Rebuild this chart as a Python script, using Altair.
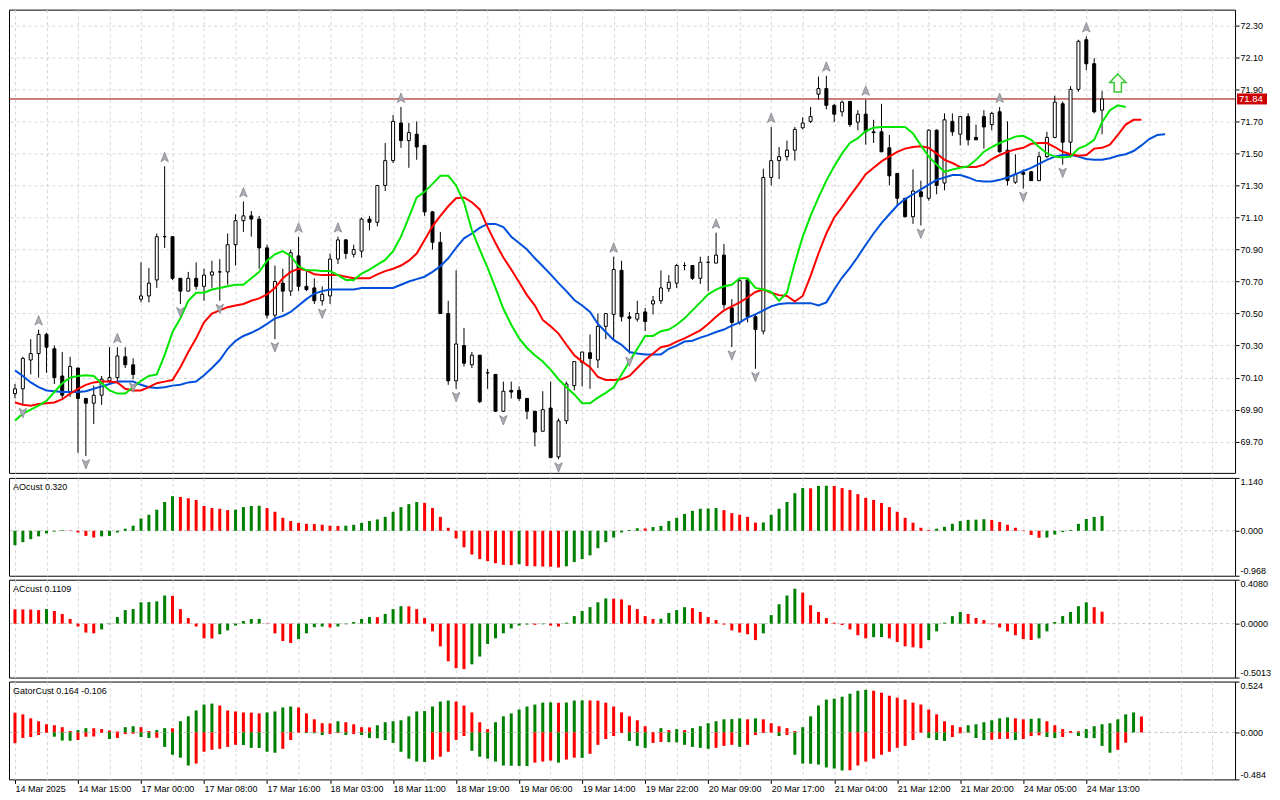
import json
import altair as alt
import pandas as pd

# ---------------- data ----------------
opens = [70.00, 70.03, 70.21, 70.25, 70.37, 70.28, 70.11, 70.01, 70.16, 69.97,
         69.94, 69.99, 70.08, 70.10, 70.23, 70.18, 70.59, 70.61, 70.71, 70.98,
         70.98, 70.72, 70.64, 70.72, 70.67, 70.74, 70.76, 70.76, 70.93, 71.08,
         71.11, 71.09, 70.91, 70.49, 70.69, 70.64, 70.86, 70.67, 70.66, 70.58,
         70.61, 70.84, 70.96, 70.87, 70.89, 71.09, 71.07, 71.30, 71.455, 71.69,
         71.58, 71.62, 71.55, 71.135, 70.945, 70.50, 70.08, 70.30, 70.18, 70.24,
         70.13, 70.12, 69.89, 70.02, 70.02, 69.97, 69.89, 69.765, 69.91, 69.605,
         69.83, 70.05, 70.195, 70.255, 70.21, 70.42, 70.495, 70.77, 70.48, 70.465,
         70.51, 70.56, 70.58, 70.655, 70.69, 70.80, 70.80, 70.72, 70.82, 70.815,
         70.865, 70.535, 70.445, 70.71, 70.48, 70.39, 71.35, 71.455, 71.48, 71.52,
         71.66, 71.70, 71.87, 71.905, 71.80, 71.76, 71.825, 71.695, 71.745, 71.635,
         71.635, 71.535, 71.375, 71.22, 71.105, 71.26, 71.22, 71.645, 71.315, 71.70,
         71.62, 71.73, 71.60, 71.73, 71.68, 71.76, 71.52, 71.32, 71.38, 71.385,
         71.33, 71.48, 71.60, 71.81, 71.57, 71.90, 72.21, 72.06, 71.77]
highs = [70.06, 70.23, 70.34, 70.40, 70.38, 70.30, 70.26, 70.23, 70.16, 69.97,
         70.05, 70.11, 70.29, 70.29, 70.29, 70.22, 70.82, 70.785, 71.00, 71.42,
         70.98, 70.72, 70.76, 70.82, 70.78, 70.83, 70.84, 71.00, 71.12, 71.20,
         71.14, 71.11, 70.93, 70.80, 70.78, 70.90, 70.98, 70.77, 70.72, 70.67,
         70.875, 70.98, 70.965, 70.93, 71.10, 71.11, 71.30, 71.565, 71.74, 71.79,
         71.69, 71.70, 71.55, 71.14, 71.01, 70.58, 70.77, 70.41, 70.26, 70.24,
         70.155, 70.12, 70.075, 70.075, 70.045, 69.97, 69.89, 70.015, 70.075, 69.845,
         70.075, 70.20, 70.26, 70.37, 70.50, 70.50, 70.855, 70.83, 70.51, 70.58,
         70.535, 70.61, 70.77, 70.74, 70.81, 70.82, 70.80, 70.855, 70.86, 71.005,
         70.935, 70.59, 70.72, 70.72, 70.49, 71.405, 71.665, 71.54, 71.58, 71.665,
         71.725, 71.79, 71.98, 71.985, 71.81, 71.83, 71.825, 71.77, 71.835, 71.71,
         71.81, 71.615, 71.375, 71.22, 71.40, 71.33, 71.65, 71.65, 71.75, 71.75,
         71.73, 71.75, 71.68, 71.77, 71.76, 71.79, 71.70, 71.495, 71.40, 71.39,
         71.51, 71.635, 71.86, 71.825, 71.92, 72.21, 72.23, 72.095, 71.89]
lows = [69.97, 69.93, 70.12, 70.10, 70.13, 70.06, 69.97, 69.98, 69.63, 69.61,
        69.81, 69.93, 70.06, 70.08, 70.16, 70.09, 70.57, 70.57, 70.66, 70.91,
        70.71, 70.56, 70.64, 70.65, 70.58, 70.66, 70.58, 70.68, 70.80, 71.01,
        70.98, 70.78, 70.47, 70.34, 70.51, 70.61, 70.64, 70.64, 70.56, 70.55,
        70.56, 70.81, 70.84, 70.85, 70.85, 71.02, 71.045, 71.265, 71.44, 71.535,
        71.41, 71.46, 71.11, 70.90, 70.50, 70.055, 70.03, 70.17, 70.16, 69.94,
        70.03, 69.885, 69.885, 69.97, 69.955, 69.84, 69.67, 69.765, 69.60, 69.59,
        69.81, 70.02, 70.045, 70.03, 70.16, 70.34, 70.33, 70.45, 70.25, 70.45,
        70.39, 70.495, 70.56, 70.635, 70.66, 70.77, 70.71, 70.685, 70.64, 70.815,
        70.53, 70.29, 70.43, 70.445, 70.155, 70.37, 71.30, 71.34, 71.455, 71.455,
        71.65, 71.69, 71.835, 71.775, 71.695, 71.73, 71.665, 71.645, 71.555, 71.565,
        71.51, 71.30, 71.17, 71.10, 71.06, 71.05, 71.205, 71.245, 71.27, 71.61,
        71.55, 71.55, 71.585, 71.53, 71.645, 71.505, 71.30, 71.31, 71.28, 71.33,
        71.33, 71.47, 71.595, 71.43, 71.475, 71.885, 72.02, 71.75, 71.62]
closes = [70.03, 70.22, 70.25, 70.37, 70.29, 70.10, 69.99, 70.17, 69.97, 69.94,
          69.99, 70.09, 70.10, 70.235, 70.18, 70.12, 70.61, 70.69, 70.98, 70.98,
          70.72, 70.64, 70.72, 70.67, 70.74, 70.76, 70.76, 70.93, 71.08, 71.11,
          71.09, 70.91, 70.49, 70.70, 70.64, 70.88, 70.67, 70.65, 70.58, 70.62,
          70.84, 70.96, 70.875, 70.90, 71.09, 71.07, 71.30, 71.455, 71.70, 71.58,
          71.63, 71.54, 71.135, 70.945, 70.50, 70.08, 70.31, 70.19, 70.24, 69.95,
          70.13, 69.89, 70.015, 70.01, 69.97, 69.89, 69.76, 69.90, 69.60, 69.83,
          70.06, 70.20, 70.26, 70.22, 70.42, 70.50, 70.775, 70.48, 70.47, 70.50,
          70.45, 70.58, 70.66, 70.695, 70.80, 70.80, 70.72, 70.82, 70.82, 70.865,
          70.555, 70.445, 70.705, 70.48, 70.40, 71.35, 71.455, 71.48, 71.52, 71.65,
          71.69, 71.73, 71.905, 71.80, 71.745, 71.82, 71.68, 71.745, 71.635, 71.63,
          71.51, 71.36, 71.22, 71.105, 71.265, 71.23, 71.645, 71.30, 71.71, 71.635,
          71.73, 71.585, 71.585, 71.665, 71.75, 71.51, 71.33, 71.37, 71.37, 71.33,
          71.48, 71.60, 71.82, 71.57, 71.90, 72.20, 72.06, 71.76, 71.84]

# Alligator lines (lips shifted 3, teeth 5, jaw 8 bars to the right)
lips = [69.83, 69.875, 69.90, 69.925, 69.955, 70.01, 70.065, 70.10, 70.11, 70.115,
        70.11, 70.065, 70.02, 70.00, 70.00, 70.04, 70.08, 70.11, 70.12, 70.24,
        70.385, 70.47, 70.58, 70.63, 70.63, 70.65, 70.66, 70.67, 70.68, 70.68,
        70.72, 70.76, 70.83, 70.87, 70.89, 70.86, 70.795, 70.77, 70.77, 70.765,
        70.765, 70.74, 70.71, 70.71, 70.75, 70.775, 70.805, 70.835, 70.89, 70.98,
        71.10, 71.225, 71.26, 71.31, 71.36, 71.36, 71.30, 71.195, 71.02, 70.90,
        70.785, 70.66, 70.53, 70.43, 70.345, 70.285, 70.24, 70.20, 70.15, 70.09,
        70.04, 69.995, 69.94, 69.94, 69.975, 70.005, 70.04, 70.12, 70.20, 70.28,
        70.36, 70.36, 70.39, 70.40, 70.43, 70.47, 70.52, 70.57, 70.62, 70.65,
        70.67, 70.68, 70.72, 70.72, 70.66, 70.65, 70.635, 70.58, 70.63, 70.815,
        70.98, 71.11, 71.225, 71.33, 71.42, 71.50, 71.565, 71.595, 71.64, 71.66,
        71.665, 71.665, 71.665, 71.665, 71.625, 71.55, 71.48, 71.43, 71.385, 71.40,
        71.41, 71.42, 71.46, 71.51, 71.54, 71.565, 71.585, 71.605, 71.61, 71.585,
        71.54, 71.50, 71.48, 71.475, 71.48, 71.53, 71.55, 71.585, 71.695, 71.77,
        71.80, 71.79]
teeth = [69.945, 69.93, 69.925, 69.935, 69.94, 69.945, 69.965, 70.00, 70.03, 70.055,
         70.07, 70.075, 70.075, 70.07, 70.03, 70.02, 70.02, 70.04, 70.065, 70.075,
         70.085, 70.165, 70.26, 70.345, 70.445, 70.50, 70.52, 70.54, 70.55, 70.56,
         70.58, 70.595, 70.62, 70.66, 70.72, 70.76, 70.78, 70.77, 70.745, 70.74,
         70.74, 70.74, 70.73, 70.72, 70.72, 70.72, 70.745, 70.765, 70.78, 70.80,
         70.83, 70.875, 70.96, 71.045, 71.11, 71.17, 71.22, 71.225, 71.195, 71.15,
         71.04, 70.94, 70.85, 70.775, 70.695, 70.615, 70.55, 70.46, 70.42, 70.375,
         70.305, 70.24, 70.20, 70.165, 70.105, 70.085, 70.085, 70.09, 70.11, 70.16,
         70.21, 70.25, 70.29, 70.30, 70.325, 70.345, 70.37, 70.395, 70.435, 70.48,
         70.52, 70.545, 70.57, 70.60, 70.635, 70.65, 70.63, 70.615, 70.61, 70.575,
         70.61, 70.735, 70.875, 71.00, 71.10, 71.165, 71.235, 71.30, 71.37, 71.41,
         71.45, 71.48, 71.51, 71.53, 71.54, 71.545, 71.535, 71.50, 71.46, 71.44,
         71.415, 71.415, 71.415, 71.43, 71.465, 71.49, 71.51, 71.525, 71.535, 71.56,
         71.565, 71.565, 71.54, 71.51, 71.495, 71.485, 71.49, 71.53, 71.535, 71.555,
         71.615, 71.68, 71.71, 71.71]
jaw = [70.145, 70.11, 70.07, 70.04, 70.02, 70.015, 70.01, 70.01, 70.01, 70.015,
       70.03, 70.045, 70.06, 70.075, 70.075, 70.075, 70.055, 70.04, 70.035, 70.04,
       70.05, 70.055, 70.07, 70.075, 70.115, 70.16, 70.21, 70.28, 70.33, 70.36,
       70.38, 70.405, 70.435, 70.47, 70.485, 70.51, 70.55, 70.59, 70.625, 70.64,
       70.65, 70.65, 70.65, 70.65, 70.66, 70.66, 70.66, 70.66, 70.66, 70.68,
       70.70, 70.715, 70.73, 70.76, 70.795, 70.845, 70.91, 70.97, 71.00, 71.035,
       71.06, 71.06, 71.04, 70.98, 70.94, 70.90, 70.845, 70.795, 70.745, 70.69,
       70.64, 70.585, 70.55, 70.51, 70.435, 70.385, 70.335, 70.305, 70.26, 70.25,
       70.245, 70.245, 70.245, 70.28, 70.30, 70.325, 70.33, 70.35, 70.365, 70.385,
       70.40, 70.425, 70.445, 70.475, 70.495, 70.52, 70.545, 70.56, 70.565, 70.565,
       70.565, 70.565, 70.55, 70.57, 70.65, 70.725, 70.785, 70.855, 70.93, 71.00,
       71.065, 71.12, 71.175, 71.215, 71.245, 71.275, 71.305, 71.335, 71.35, 71.365,
       71.365, 71.35, 71.33, 71.325, 71.325, 71.335, 71.35, 71.37, 71.39, 71.41,
       71.435, 71.46, 71.48, 71.49, 71.49, 71.48, 71.465, 71.46, 71.46, 71.47,
       71.485, 71.495, 71.515, 71.55, 71.59, 71.615, 71.62]

fractal_up = [3, 13, 19, 29, 36, 41, 49, 76, 89, 96, 103, 108, 125, 136]
fractal_down = [1, 9, 15, 21, 26, 33, 39, 56, 62, 69, 78, 91, 94, 115, 128, 133]

signal_bar = [140]
signal_price = [71.94]
price_now = [71.84]

ao = [-0.31, -0.245, -0.18, -0.12, -0.055, -0.018, 0.015, 0.008, -0.036, -0.11,
      -0.145, -0.12, -0.11, -0.036, 0.045, 0.11, 0.265, 0.345, 0.455, 0.62,
      0.745, 0.73, 0.70, 0.665, 0.535, 0.49, 0.475, 0.445, 0.455, 0.51,
      0.535, 0.54, 0.49, 0.41, 0.28, 0.21, 0.17, 0.15, 0.145, 0.13,
      0.11, 0.105, 0.11, 0.13, 0.17, 0.21, 0.245, 0.30, 0.41, 0.51,
      0.575, 0.62, 0.60, 0.49, 0.30, 0.065, -0.165, -0.355, -0.51, -0.61,
      -0.655, -0.70, -0.735, -0.74, -0.72, -0.76, -0.765, -0.77, -0.775, -0.79,
      -0.765, -0.675, -0.61, -0.53, -0.375, -0.245, -0.145, -0.036, 0.018, 0.055,
      0.05, 0.08, 0.105, 0.21, 0.28, 0.365, 0.43, 0.475, 0.48, 0.49,
      0.445, 0.38, 0.345, 0.30, 0.175, 0.18, 0.345, 0.475, 0.62, 0.81,
      0.92, 0.915, 0.965, 0.97, 0.965, 0.92, 0.88, 0.79, 0.71, 0.665,
      0.60, 0.51, 0.41, 0.28, 0.175, 0.065, 0.018, 0.045, 0.085, 0.15,
      0.21, 0.235, 0.24, 0.25, 0.235, 0.19, 0.13, 0.065, 0.01, -0.09,
      -0.15, -0.145, -0.08, -0.027, 0.018, 0.15, 0.255, 0.30, 0.32]
ao_colors = ("ggggggg" "rrrr" "gggggggggg" "rrrrrrr" "gggg" "rrrrrrrrrr"
             "gggggggggg" "rrrrrrrrrrrr" "g" "rrrrr" "gggggggggg" "r"
             "ggggggggg" "rrrrr" "gggggg" "r" "gg" "rrrrrrrrrrrrr" "ggggggg"
             "rrrrrrr" "gggggggg")

ac = [0.133, 0.132, 0.131, 0.126, 0.135, 0.117, 0.09, 0.043, -0.027, -0.083,
      -0.09, -0.054, -0.006, 0.061, 0.126, 0.135, 0.198, 0.20, 0.207, 0.261,
      0.258, 0.135, 0.052, -0.027, -0.137, -0.138, -0.099, -0.063, -0.018, 0.024,
      0.043, 0.044, -0.003, -0.09, -0.162, -0.18, -0.144, -0.09, -0.033, -0.027,
      -0.036, -0.027, -0.006, 0.015, 0.043, 0.061, 0.060, 0.09, 0.135, 0.162,
      0.161, 0.135, 0.052, -0.072, -0.211, -0.35, -0.414, -0.423, -0.378, -0.306,
      -0.189, -0.137, -0.09, -0.045, -0.018, -0.009, -0.011, -0.006, -0.018, -0.027,
      0.009, 0.07, 0.117, 0.153, 0.198, 0.234, 0.232, 0.225, 0.171, 0.135,
      0.07, 0.043, 0.045, 0.099, 0.126, 0.153, 0.144, 0.108, 0.061, 0.033,
      -0.009, -0.063, -0.083, -0.099, -0.153, -0.09, 0.079, 0.18, 0.261, 0.324,
      0.288, 0.171, 0.108, 0.052, 0.009, -0.013, -0.054, -0.108, -0.137, -0.126,
      -0.125, -0.137, -0.171, -0.211, -0.22, -0.229, -0.153, -0.072, 0.009, 0.07,
      0.108, 0.09, 0.052, 0.033, -0.006, -0.036, -0.072, -0.108, -0.144, -0.153,
      -0.137, -0.072, 0.015, 0.07, 0.108, 0.162, 0.198, 0.153, 0.1109]
ac_colors = ("rrrr" "g" "rrrrrr" "ggggggggg" "rrrrrr" "gggggg" "rrrr" "gggg" "r"
             "ggggg" "r" "ggg" "rrrrrrrr" "gggggggg" "r" "g" "rr" "gggggg"
             "rrrrrr" "gggg" "rrrrrrrrr" "ggggg" "rrrrrrrrr" "gg" "rrrrr"
             "ggggg" "rrrrrrrrr" "ggggggg" "rr")

gator_up = [0.203, 0.186, 0.145, 0.115, 0.084, 0.074, 0.054, 0.014, 0.024, 0.044,
            0.043, 0.034, 0.02, 0.01, 0.054, 0.064, 0.054, 0.014, 0.024, 0.044,
            0.042, 0.115, 0.166, 0.226, 0.287, 0.297, 0.277, 0.226, 0.216, 0.206,
            0.204, 0.196, 0.206, 0.216, 0.257, 0.267, 0.257, 0.196, 0.135, 0.095,
            0.093, 0.115, 0.105, 0.084, 0.054, 0.052, 0.074, 0.105, 0.115, 0.125,
            0.166, 0.216, 0.22, 0.267, 0.318, 0.328, 0.318, 0.277, 0.206, 0.105,
            0.034, 0.105, 0.166, 0.196, 0.236, 0.267, 0.287, 0.307, 0.31, 0.305,
            0.308, 0.328, 0.33, 0.329, 0.327, 0.307, 0.267, 0.206, 0.166, 0.125,
            0.064, 0.003, 0.044, 0.024, 0.034, 0.024, 0.044, 0.064, 0.095, 0.115,
            0.135, 0.137, 0.145, 0.135, 0.145, 0.135, 0.095, 0.064, 0.044, 0.014,
            0.054, 0.166, 0.277, 0.338, 0.348, 0.368, 0.399, 0.429, 0.439, 0.429,
            0.409, 0.378, 0.358, 0.338, 0.307, 0.287, 0.236, 0.186, 0.115, 0.074,
            0.054, 0.074, 0.084, 0.105, 0.125, 0.145, 0.155, 0.145, 0.135, 0.14,
            0.145, 0.115, 0.074, 0.034, 0.014, 0.012, 0.034, 0.064, 0.084, 0.095,
            0.135, 0.186, 0.206, 0.164]
gator_up_colors = ("rrrrrrrr" "gg" "rrrr" "gg" "rr" "gg" "r" "ggggg" "rrrrrr"
                   "gggg" "rrrrr" "g" "rrrr" "gggggggggg" "rrrrr" "gggggggg" "r"
                   "ggg" "rrrrrrrrr" "g" "r" "g" "r" "ggggggg" "r" "g" "rrrrr"
                   "ggggggggg" "rrrrrrrrrrrr" "gggggg" "rr" "gg" "rrrrr"
                   "ggggggg" "r")
gator_down = [-0.111, -0.057, -0.047, -0.027, -0.005, -0.044, -0.084, -0.086, -0.078, -0.044,
              -0.042, -0.005, -0.068, -0.057, -0.017, -0.014, -0.047, -0.057, -0.055, -0.149,
              -0.23, -0.26, -0.341, -0.321, -0.199, -0.179, -0.169, -0.149, -0.128, -0.13,
              -0.159, -0.161, -0.199, -0.209, -0.169, -0.078, -0.003, -0.007, -0.009, -0.027,
              -0.017, -0.007, -0.027, -0.017, -0.027, -0.057, -0.06, -0.078, -0.108, -0.199,
              -0.27, -0.30, -0.305, -0.28, -0.25, -0.199, -0.078, -0.037, -0.189, -0.25,
              -0.27, -0.30, -0.341, -0.343, -0.345, -0.347, -0.311, -0.30, -0.29, -0.311,
              -0.28, -0.26, -0.262, -0.22, -0.128, -0.068, -0.037, -0.007, -0.088, -0.139,
              -0.159, -0.108, -0.098, -0.1, -0.102, -0.128, -0.149, -0.159, -0.169, -0.159,
              -0.139, -0.128, -0.149, -0.128, -0.027, -0.007, -0.003, -0.037, -0.027, -0.23,
              -0.321, -0.323, -0.331, -0.361, -0.372, -0.392, -0.39, -0.341, -0.30, -0.27,
              -0.23, -0.199, -0.159, -0.139, -0.078, -0.003, -0.057, -0.078, -0.088, -0.047,
              -0.01, -0.003, -0.057, -0.078, -0.076, -0.068, -0.066, -0.078, -0.068, -0.037,
              -0.03, -0.047, -0.057, -0.047, -0.007, -0.037, -0.057, -0.059, -0.139, -0.209,
              -0.179, -0.106]
gator_down_colors = ("rrrrr" "ggg" "rrrr" "g" "rrr" "gg" "r" "gggg" "rrrrrr" "ggggg"
                     "rrr" "ggg" "rr" "g" "r" "ggggggggg" "rrrrr" "gggggggg" "rrr" "g"
                     "rr" "g" "rrrrr" "ggg" "rr" "gggggg" "rrr" "g" "rrrr" "g" "r"
                     "ggggggg" "rrrrrrrrrr" "ggg" "rrr" "gg" "rrr" "g" "rrr" "gg" "rr"
                     "ggggg" "rr")

time_labels = ["14 Mar 2025", "14 Mar 15:00", "17 Mar 00:00", "17 Mar 08:00",
               "17 Mar 16:00", "18 Mar 03:00", "18 Mar 11:00", "18 Mar 19:00",
               "19 Mar 06:00", "19 Mar 14:00", "19 Mar 22:00", "20 Mar 09:00",
               "20 Mar 17:00", "21 Mar 04:00", "21 Mar 12:00", "21 Mar 20:00",
               "24 Mar 05:00", "24 Mar 13:00"]
price_ticks = [69.70, 69.90, 70.10, 70.30, 70.50, 70.70, 70.90, 71.10,
               71.30, 71.50, 71.70, 71.90, 72.10, 72.30]
grid_bars = list(range(0, 153, 4))

# ---------------- styling ----------------
FONT = "Liberation Sans"
W = 1228
H_MAIN = 464
H_IND = 98
GRID = "#d6d6d6"
C_GREEN = "#008000"
C_RED = "#ff0000"
MINUS_FIX = "replace(datum.label, '\u2212', '-')"

XS = alt.Scale(domain=[-0.125, 154.25], nice=False, zero=False)
x_axis_plain = alt.Axis(values=grid_bars, grid=True, gridDash=[3, 3], gridColor=GRID,
                        labels=False, ticks=False, domain=False, title=None)
label_expr = ("datum.value % 8 == 0 ? (" + json.dumps(time_labels)
              + "[datum.value / 8] || '') : ''")
x_axis_time = alt.Axis(values=grid_bars, grid=True, gridDash=[3, 3], gridColor=GRID,
                       labelExpr=label_expr, labelAlign="left", labelBaseline="top",
                       labelPadding=1, labelOverlap=False, labelBound=False, labelFlush=False,
                       tickSize=4,
                       tickColor={"condition": {"test": "datum.value % 8 == 0 && datum.value <= 136",
                                                "value": "black"},
                                  "value": "transparent"},
                       domain=False, title=None)


def colour_list(s, n):
    s = (s + s[-1] * n)[:n]
    return list(s)


# ---------------- main price panel ----------------
YS = alt.Scale(domain=[69.505, 72.398], nice=False, zero=False)
y_axis_main = alt.Axis(orient="right", values=price_ticks, format=".2f", grid=True,
                       gridDash=[3, 3], gridColor=GRID, tickSize=4, labelPadding=1,
                       domain=False, title=None)


def XM(axis=x_axis_plain):
    return alt.X("i:Q", scale=XS, axis=axis, title=None)


def YM(field):
    return alt.Y(field, scale=YS, axis=y_axis_main, title=None)


cdf = pd.DataFrame({"i": range(len(opens)), "o": opens, "h": highs, "l": lows, "c": closes})
cdf["dir"] = ["up" if c >= o else "down" for o, c in zip(opens, closes)]

price_df = pd.DataFrame({"p": price_now})

price_line = alt.Chart(price_df).mark_rule(color="#990000", strokeWidth=1).encode(y=YM("p:Q"))

wicks = alt.Chart(cdf).mark_rule(color="black", strokeWidth=1).encode(
    x=XM(), y=YM("l:Q"), y2="h:Q")
bodies = alt.Chart(cdf).mark_bar(size=3, stroke="black", strokeWidth=1).encode(
    x=XM(), y=YM("o:Q"), y2="c:Q",
    fill=alt.Fill("dir:N", scale=alt.Scale(domain=["up", "down"], range=["white", "black"]),
                  legend=None))


def line_layer(vals, colour):
    df = pd.DataFrame({"i": range(len(vals)), "v": vals})
    return alt.Chart(df).mark_line(color=colour, strokeWidth=2).encode(x=XM(), y=YM("v:Q"))


jaw_l = line_layer(jaw, "#0050dc")
teeth_l = line_layer(teeth, "#ff0000")
lips_l = line_layer(lips, "#00e600")

UP_PATH = "M0,-1L0.75,0.9L0,0.45L-0.75,0.9Z"
DN_PATH = "M0,1L0.75,-0.9L0,-0.45L-0.75,-0.9Z"
fup = pd.DataFrame({"i": fractal_up, "p": [highs[k] for k in fractal_up]})
fdn = pd.DataFrame({"i": fractal_down, "p": [lows[k] for k in fractal_down]})
frac_up_l = alt.Chart(fup).mark_point(shape=UP_PATH, size=100, filled=True, fill="#acacb4",
                                      stroke="#85858c", strokeWidth=0.8, opacity=1,
                                      yOffset=-9).encode(x=XM(), y=YM("p:Q"))
frac_dn_l = alt.Chart(fdn).mark_point(shape=DN_PATH, size=100, filled=True, fill="#acacb4",
                                      stroke="#85858c", strokeWidth=0.8, opacity=1,
                                      yOffset=8).encode(x=XM(), y=YM("p:Q"))

ARROW = "M0,-1L0.9,-0.05L0.4,-0.05L0.4,1L-0.4,1L-0.4,-0.05L-0.9,-0.05Z"
sig_df = pd.DataFrame({"i": signal_bar, "p": signal_price})
signal = alt.Chart(sig_df).mark_point(shape=ARROW, size=330, filled=True, fill="#fbfff0",
                                      stroke="#3cc83c", strokeWidth=1.5, opacity=1).encode(
    x=XM(), y=YM("p:Q"))

price_box = alt.Chart(price_df).mark_rect(fill="#cc0000", yOffset=-5.5, y2Offset=5.5).encode(
    x=alt.value(W + 2), x2=alt.value(W + 32), y=YM("p:Q"), y2="p:Q")
price_txt = alt.Chart(price_df).mark_text(align="left", baseline="middle", color="white",
                                          fontSize=9.5, font=FONT).encode(
    x=alt.value(W + 4), y=YM("p:Q"), text=alt.Text("p:Q", format=".2f"))

main = alt.layer(price_line, wicks, bodies, jaw_l, teeth_l, lips_l, frac_up_l, frac_dn_l,
                 signal, price_box, price_txt).properties(width=W, height=H_MAIN)


# ---------------- indicator panels ----------------
def indicator(series_list, lo, hi, fmt, label, xaxis):
    ys = alt.Scale(domain=[lo, hi], nice=False, zero=False)
    yax = alt.Axis(orient="right", values=[lo, 0, hi], format=fmt, labelFlush=True,
                   grid=False, tickSize=4, labelPadding=1, domain=False, title=None,
                   labelExpr=MINUS_FIX)

    def Y(f):
        return alt.Y(f, scale=ys, axis=yax, title=None)

    zero = alt.Chart(pd.DataFrame({"z": [0]})).mark_rule(
        color="#c4c4c4", strokeDash=[3, 3], strokeWidth=1).encode(y=Y("z:Q"))
    layers = [zero]
    for vals, cols in series_list:
        df = pd.DataFrame({"i": range(len(vals)), "v": vals, "zero": 0,
                           "col": colour_list(cols, len(vals))})
        layers.append(alt.Chart(df).mark_bar(size=3).encode(
            x=alt.X("i:Q", scale=XS, axis=xaxis, title=None), y=Y("v:Q"), y2="zero:Q",
            color=alt.Color("col:N", scale=alt.Scale(domain=["g", "r"], range=[C_GREEN, C_RED]),
                            legend=None)))
    txt = alt.Chart(pd.DataFrame({"t": [label]})).mark_text(
        align="left", baseline="middle", fontSize=9, font=FONT, color="black").encode(
        x=alt.value(4), y=alt.value(9), text="t:N")
    layers.append(txt)
    return alt.layer(*layers).properties(width=W, height=H_IND)


ao_panel = indicator([(ao, ao_colors)], -0.968, 1.140, ".3f",
                     f"AOcust {ao[-1]:.3f}", x_axis_plain)
ac_panel = indicator([(ac, ac_colors)], -0.5013, 0.4080, ".4f",
                     f"ACcust {ac[-1]:.4f}", x_axis_plain)
gator_panel = indicator([(gator_up, gator_up_colors), (gator_down, gator_down_colors)],
                        -0.484, 0.524, ".3f",
                        f"GatorCust {gator_up[-1]:.3f} {gator_down[-1]:.3f}", x_axis_time)

chart = alt.vconcat(main, ao_panel, ac_panel, gator_panel, spacing=2).properties(
    padding=0, background="white"
).configure_view(stroke="black", strokeWidth=1).configure_axis(
    labelFont=FONT, labelFontSize=9, labelColor="black", tickColor="black", tickWidth=1
).configure_text(font=FONT)

chart.save("out.html", embed_options={"renderer": "svg", "actions": False})
